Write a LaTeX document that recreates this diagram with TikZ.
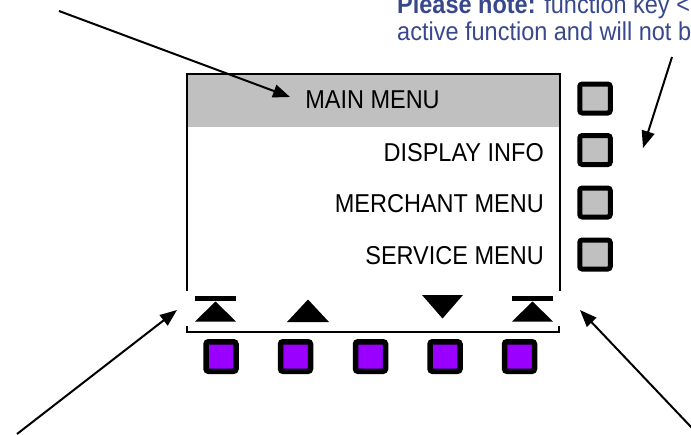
\documentclass[tikz,border=0pt]{standalone}
\usepackage{fontspec}
\setmainfont{Liberation Sans}
\usetikzlibrary{arrows.meta}
\definecolor{hdrgray}{RGB}{192,192,192}
\definecolor{btnpurple}{RGB}{153,0,255}
\definecolor{noteblue}{RGB}{56,72,140}
\newcommand{\tall}[1]{\scalebox{1}[1.1]{#1}}
\begin{document}
\begin{tikzpicture}[x=1pt,y=-1pt,
  lbl/.style={font=\fontsize{23.5}{28}\selectfont, inner sep=0pt},
  sidekey/.style={draw=black, line width=5pt, fill=hdrgray, rounded corners=2.5pt, minimum width=30.5pt, minimum height=29pt, inner sep=0pt},
  softkey/.style={draw=black, line width=5.5pt, fill=btnpurple, rounded corners=2.5pt, minimum width=30pt, minimum height=29.5pt, inner sep=0pt},
  callout/.style={line width=2pt, -{Triangle[length=17pt,width=13pt]}},
  frameline/.style={line width=1.3pt}
]
\useasboundingbox (0,0) rectangle (691,434);
\clip (0,0) rectangle (691,434);
% screen
\fill[hdrgray] (187,74) rectangle (560,127);
\draw[frameline] (187,291) -- (187,74) -- (560,74) -- (560,291);
\draw[frameline] (187,326) -- (187,332) -- (559,332) -- (559,326);
% menu texts
\node[lbl, anchor=base] (mainmenu) at (372.5,108) {\tall{MAIN MENU}};
\node[lbl, anchor=base east] (dispinfo) at (544,161) {\tall{DISPLAY INFO}};
\node[lbl, anchor=base east] (merchmenu) at (544,212) {\tall{MERCHANT MENU}};
\node[lbl, anchor=base east] (servmenu) at (544,264) {\tall{SERVICE MENU}};
% side keys
\node[sidekey] (k1) at (595,98.5) {};
\node[sidekey] (k2) at (595,150) {};
\node[sidekey] (k3) at (595,202.5) {};
\node[sidekey] (k4) at (595,254.5) {};
% soft keys
\node[softkey] (s1) at (221,356.5) {};
\node[softkey] (s2) at (295.5,356.5) {};
\node[softkey] (s3) at (370.5,356.5) {};
\node[softkey] (s4) at (445,356.5) {};
\node[softkey] (s5) at (519.5,356.5) {};
% soft key symbols
\fill (195,295.5) rectangle (236,300.5);
\fill (195,321.5) -- (236,321.5) -- (215.5,301.5) -- cycle;
\fill (287,322) -- (329,322) -- (308,299.5) -- cycle;
\fill (422,295) -- (463,295) -- (442.5,318.5) -- cycle;
\fill (512,295.5) rectangle (553,300.5);
\fill (512,321.5) -- (553,321.5) -- (532.5,301.5) -- cycle;
% note
\node[lbl, text=noteblue, anchor=base west] (note1) at (397,13.5) {\tall{\textbf{Please note:} function key <}};
\node[lbl, text=noteblue, anchor=base west] (note2) at (397,40.5) {\tall{active function and will not b}};
% callouts
\coordinate (a1s) at (59,11);   \coordinate (a1e) at (290,97);
\coordinate (a2s) at (672,57);  \coordinate (a2e) at (643,148);
\coordinate (a3s) at (17,434);  \coordinate (a3e) at (177,310);
\coordinate (a4s) at (692,428); \coordinate (a4e) at (580,310);
\draw[callout] (a1s) -- (a1e);
\draw[callout] (a2s) -- (a2e);
\draw[callout] (a3s) -- (a3e);
\draw[callout] (a4s) -- (a4e);
\end{tikzpicture}
\end{document}
